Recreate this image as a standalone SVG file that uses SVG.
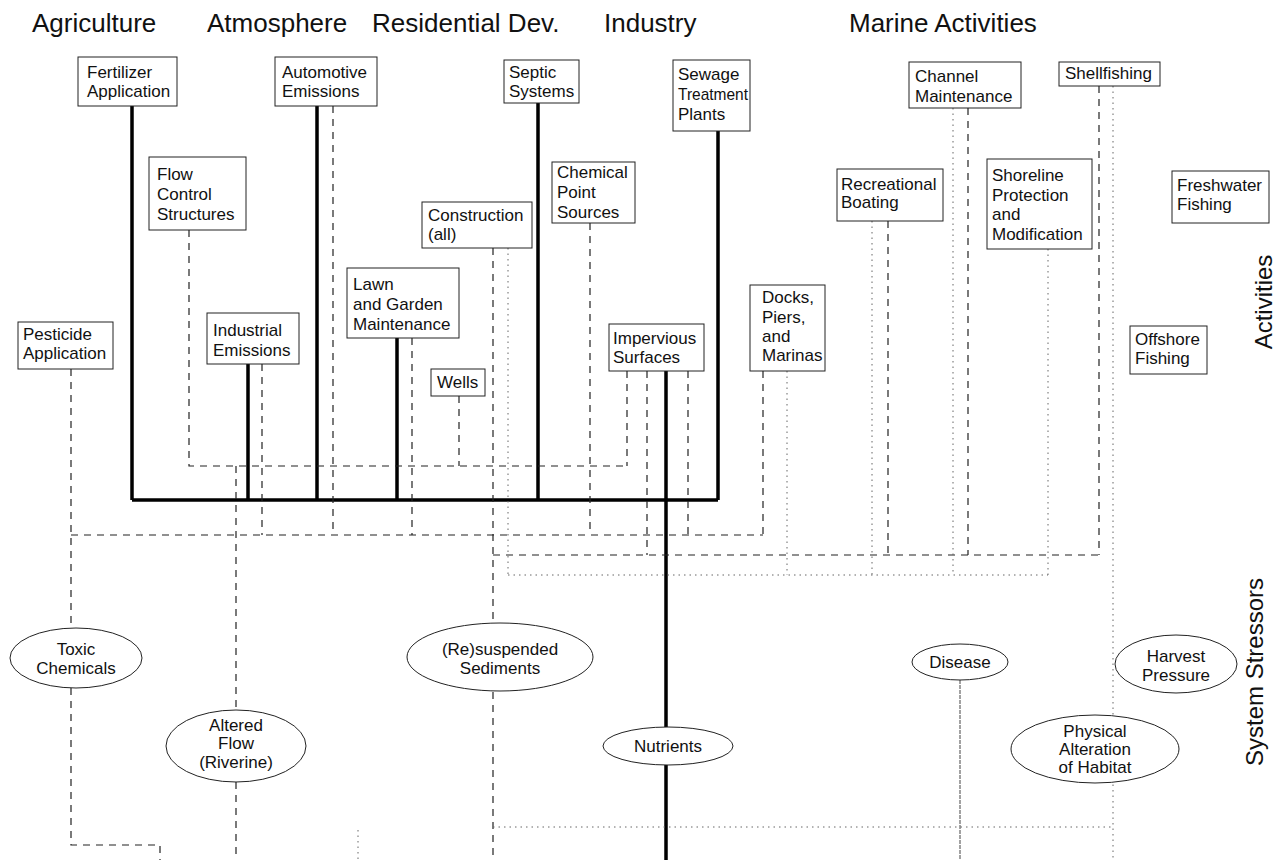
<svg xmlns="http://www.w3.org/2000/svg" width="1281" height="860" viewBox="0 0 1281 860">
<style>
text{font-family:"Liberation Sans",Arial,sans-serif;fill:#111}
.t{font-size:17px}
.h{font-size:26px}
.v{font-size:24px}
.box rect,rect.box{fill:#fff;stroke:#222;stroke-width:1}
ellipse{fill:#fff;stroke:#222;stroke-width:1}
.thick{stroke:#000;stroke-width:3.5;fill:none}
.dash{stroke:#222;stroke-width:1.2;stroke-dasharray:7 6;fill:none}
.dot{stroke:#666;stroke-width:1;stroke-dasharray:1.5 4;fill:none}
.thin{stroke:#444;stroke-width:1;stroke-dasharray:4 1;fill:none}
.c{text-anchor:middle}
</style>
<rect width="1281" height="860" fill="#fff"/>

<g id="headings">
<text class="h" x="32" y="32">Agriculture</text>
<text class="h" x="207" y="32">Atmosphere</text>
<text class="h" x="372" y="32">Residential Dev.</text>
<text class="h" x="604" y="32">Industry</text>
<text class="h" x="849" y="32">Marine Activities</text>
<text class="v c" transform="translate(1272,302) rotate(-90)">Activities</text>
<text class="v c" transform="translate(1263,672) rotate(-90)">System Stressors</text>
</g>

<g id="connectors">
<path class="thick" d="M132 106V500M317 106V500M248 364V500M397 338V500M538 103V500M718 131V500M132 500H718M666 371V727M666 765V860"/>
<path class="dash" d="M71 369V628M71 688V845H160V860M71 535H763M262 364V535M333 106V535M412 338V535M590 223V535M688 371V535M763 371V535"/>
<path class="dash" d="M189 230V466H627M459 396V466M627 371V466M236 466V710M236 782V860"/>
<path class="dash" d="M493 248V623M493 692V860M493 555H1099M647 371V555M888 221V555M968 108V555M1099 86V555"/>
<path class="dot" d="M508 248V575M787 371V575M872 221V575M953 108V575M1048 249V575M508 575H1048M1113 86V860M493 827H1113M358 830V860"/>
<path class="thin" d="M960 680V860"/>
</g>

<g id="fertilizer" class="box"><rect x="78" y="57" width="99" height="49"/><text class="t" x="87" y="78">Fertilizer</text><text class="t" x="87" y="97">Application</text></g>
<g id="automotive" class="box"><rect x="275" y="57" width="102" height="49"/><text class="t" x="282" y="78">Automotive</text><text class="t" x="282" y="97">Emissions</text></g>
<g id="flow-control" class="box"><rect x="149" y="157" width="97" height="73"/><text class="t" x="157" y="180">Flow</text><text class="t" x="157" y="200">Control</text><text class="t" x="157" y="220">Structures</text></g>
<g id="pesticide" class="box"><rect x="18" y="322" width="95" height="47"/><text class="t" x="23" y="340">Pesticide</text><text class="t" x="23" y="359">Application</text></g>
<g id="industrial" class="box"><rect x="207" y="313" width="92" height="51"/><text class="t" x="213" y="336">Industrial</text><text class="t" x="213" y="356">Emissions</text></g>
<g id="lawn" class="box"><rect x="347" y="268" width="112" height="70"/><text class="t" x="353" y="290">Lawn</text><text class="t" x="353" y="310">and Garden</text><text class="t" x="353" y="330">Maintenance</text></g>
<g id="construction" class="box"><rect x="422" y="202" width="110" height="46"/><text class="t" x="428" y="221">Construction</text><text class="t" x="428" y="240">(all)</text></g>
<g id="wells" class="box"><rect x="431" y="369" width="54" height="27"/><text class="t" x="437" y="388">Wells</text></g>
<g id="septic" class="box"><rect x="504" y="60" width="75" height="43"/><text class="t" x="509" y="78">Septic</text><text class="t" x="509" y="97">Systems</text></g>
<g id="chemical" class="box"><rect x="552" y="162" width="83" height="61"/><text class="t" x="557" y="178">Chemical</text><text class="t" x="557" y="198">Point</text><text class="t" x="557" y="218">Sources</text></g>
<g id="sewage" class="box"><rect x="673" y="60" width="77" height="71"/><text class="t" x="678" y="80">Sewage</text><text class="t" x="678" y="100" textLength="70" lengthAdjust="spacingAndGlyphs">Treatment</text><text class="t" x="678" y="120">Plants</text></g>
<g id="impervious" class="box"><rect x="609" y="324" width="95" height="47"/><text class="t" x="613" y="344">Impervious</text><text class="t" x="613" y="363">Surfaces</text></g>
<g id="docks" class="box"><rect x="750" y="285" width="75" height="86"/><text class="t" x="762" y="303">Docks,</text><text class="t" x="762" y="323">Piers,</text><text class="t" x="762" y="342">and</text><text class="t" x="762" y="361">Marinas</text></g>
<g id="recreational" class="box"><rect x="837" y="169" width="106" height="52"/><text class="t" x="841" y="190">Recreational</text><text class="t" x="841" y="208">Boating</text></g>
<g id="channel" class="box"><rect x="909" y="62" width="112" height="46"/><text class="t" x="915" y="82">Channel</text><text class="t" x="915" y="102">Maintenance</text></g>
<g id="shoreline" class="box"><rect x="987" y="159" width="105" height="90"/><text class="t" x="992" y="181">Shoreline</text><text class="t" x="992" y="201">Protection</text><text class="t" x="992" y="220">and</text><text class="t" x="992" y="240">Modification</text></g>
<g id="shellfishing" class="box"><rect x="1059" y="62" width="101" height="24"/><text class="t" x="1065" y="79">Shellfishing</text></g>
<g id="freshwater" class="box"><rect x="1172" y="171" width="97" height="52"/><text class="t" x="1177" y="191">Freshwater</text><text class="t" x="1177" y="210">Fishing</text></g>
<g id="offshore" class="box"><rect x="1130" y="326" width="77" height="48"/><text class="t" x="1135" y="345">Offshore</text><text class="t" x="1135" y="364">Fishing</text></g>

<g id="toxic"><ellipse cx="76" cy="658" rx="66" ry="30"/><text class="t c" x="76" y="655">Toxic</text><text class="t c" x="76" y="674">Chemicals</text></g>
<g id="altered-flow"><ellipse cx="236" cy="746" rx="70" ry="36"/><text class="t c" x="236" y="731">Altered</text><text class="t c" x="236" y="749">Flow</text><text class="t c" x="236" y="768">(Riverine)</text></g>
<g id="sediments"><ellipse cx="500" cy="657" rx="93" ry="34"/><text class="t c" x="500" y="655">(Re)suspended</text><text class="t c" x="500" y="674">Sediments</text></g>
<g id="nutrients"><ellipse cx="668" cy="746" rx="65" ry="19"/><text class="t c" x="668" y="752">Nutrients</text></g>
<g id="disease"><ellipse cx="960" cy="662" rx="48" ry="18"/><text class="t c" x="960" y="668">Disease</text></g>
<g id="harvest"><ellipse cx="1176" cy="664" rx="61" ry="29"/><text class="t c" x="1176" y="662">Harvest</text><text class="t c" x="1176" y="681">Pressure</text></g>
<g id="physical"><ellipse cx="1095" cy="749" rx="84" ry="34"/><text class="t c" x="1095" y="737">Physical</text><text class="t c" x="1095" y="755">Alteration</text><text class="t c" x="1095" y="773">of Habitat</text></g>
</svg>
